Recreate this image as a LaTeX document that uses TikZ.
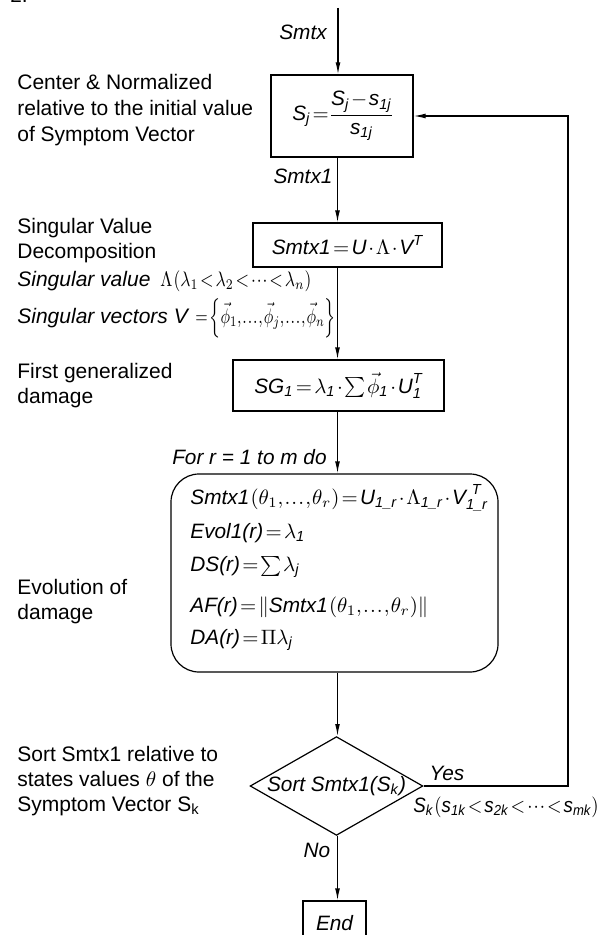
\RequirePackage{fix-cm}
\documentclass[tikz,border=0pt]{standalone}
\usepackage{amsmath}
\usepackage{graphicx}
\usepackage{fontspec}
\setmainfont{Liberation Sans}
\usetikzlibrary{shapes.geometric,arrows.meta}
\newcommand{\ti}[1]{\textit{#1}}
\newcommand{\tightmath}{\thickmuskip=2mu plus 1mu\medmuskip=1.5mu\thinmuskip=1mu\nulldelimiterspace=0pt}
\tikzset{
  every node/.style={font=\fontsize{10.4}{13}\selectfont\tightmath},
  box/.style={draw, line width=0.6pt, inner sep=0pt},
  arr/.style={draw, line width=0.6pt, -{Latex[length=6pt,width=2.4pt]}},
  lbl/.style={font=\fontsize{10.4}{13}\selectfont\itshape, inner sep=0pt},
  note/.style={align=left, inner sep=0pt, anchor=west, font=\fontsize{10.5}{12.5}\selectfont\tightmath},
  mline/.style={inner sep=0pt, anchor=west}
}
\begin{document}
\begin{tikzpicture}[x=0.5pt,y=-0.5pt]
\useasboundingbox (0,0) rectangle (608,935);
\coordinate (ax) at (337.5,0);
\coordinate (in) at (338,8);
\node[anchor=base west, inner sep=0pt] (two) at (10,3) {2.};
% boxes
\node[box, minimum width=71pt, minimum height=41pt] (b1) at (342,116)
  {$\ti{S}_{\ti{j}}=\dfrac{\ti{S}_{\ti{j}}-\ti{s}_{\ti{1j}}}{\ti{s}_{\ti{1j}}}$};
\node[box, minimum width=94.5pt, minimum height=22pt] (b2) at (347.5,245)
  {$\ti{Smtx1}=\ti{U}\cdot\Lambda\cdot\ti{V}^{\ti{T}}$};
\node[box, minimum width=105.5pt, minimum height=25.5pt] (b3) at (338.5,385.5)
  {$\ti{SG}_{\ti{1}}=\lambda_{\ti{1}}\cdot\sum\vec{\phi}_{\ti{1}}\cdot\ti{U}_{\ti{1}}^{\ti{T}}$};
\node[box, rounded corners=14pt, minimum width=163.5pt, minimum height=99pt] (rb) at (334.5,573) {};
\node[mline] (e1) at (190,498)
  {$\ti{Smtx1}\left(\theta_{1},\ldots,\theta_{r}\right)=\ti{U}_{\ti{1\_r}}\cdot\Lambda_{\ti{1\_r}}\cdot\ti{V}_{\ti{1\_r}}^{\ \ti{T}}$};
\node[mline] (e2) at (190,533) {$\ti{Evol1(r)}=\lambda_{\ti{1}}$};
\node[mline] (e3) at (190,567) {$\ti{DS(r)}=\sum\lambda_{\ti{j}}$};
\node[mline] (e4) at (190,607) {$\ti{AF(r)}=\left\|\ti{Smtx1}\left(\theta_{1},\ldots,\theta_{r}\right)\right\|$};
\node[mline] (e5) at (190,640) {$\ti{DA(r)}=\Pi\lambda_{\ti{j}}$};
\node[draw, line width=0.6pt, diamond, shape aspect=1.75, inner sep=0pt, minimum width=85.5pt, minimum height=49pt] (dia) at (336.5,786)
  {\ti{Sort Smtx1(S\textsubscript{k})}};
\node[box, minimum width=31.5pt, minimum height=22pt, font=\fontsize{10.4}{13}\selectfont\itshape] (end) at (334.5,923) {End};
% labels
\node[lbl] (smtx) at (303,32) {Smtx};
\node[lbl] (smtx1) at (303,176) {Smtx1};
\node[lbl, anchor=east] (forr) at (327,457) {For r = 1 to m do};
\node[lbl] (yes) at (447,773) {Yes};
\node[lbl] (no) at (317,850) {No};
\node[mline] (skc) at (413,807)
  {\scalebox{0.9}[1]{$\ti{S}_{\ti{k}}\left(\ti{s}_{\ti{1k}}<\ti{s}_{\ti{2k}}<\cdots<\ti{s}_{\ti{mk}}\right)$}};
% left notes
\node[note, font=\fontsize{10.5}{13}\selectfont] (t1) at (17,110) {Center \& Normalized\\relative to the initial value\\of Symptom Vector};
\node[note] (t2) at (17,240.5) {Singular Value\\Decomposition};
\node[mline, font=\fontsize{10.5}{13}\selectfont\tightmath] (t3) at (17,281) {\ti{Singular value}\hspace{5pt}\scalebox{0.83}[1]{$\Lambda\left(\lambda_1<\lambda_2<\cdots<\lambda_n\right)$}};
\node[mline, font=\fontsize{10.5}{13}\selectfont\tightmath] (t4) at (17,318) {\ti{Singular vectors V} \scalebox{0.76}[1]{$=\left\{\vec{\phi}_1,\ldots,\vec{\phi}_j,\ldots,\vec{\phi}_n\right\}$}};
\node[note] (t5) at (17,385.5) {First generalized\\damage};
\node[note] (t6) at (17,602) {Evolution of\\damage};
\node[note] (t7) at (17,781) {Sort Smtx1 relative to\\states values $\theta$ of the\\Symptom Vector S\textsubscript{k}};
% connectors
\draw[arr] (in) -- (in |- b1.north);
\draw[arr] (b1.south -| ax) -- (b2.north -| ax);
\draw[arr] (b2.south -| ax) -- (b3.north -| ax);
\draw[arr] (b3.south -| ax) -- (rb.north -| ax);
\draw[arr] (rb.south -| ax) -- (dia.north -| ax);
\draw[arr] (dia.south -| ax) -- (end.north -| ax);
\coordinate (fb) at (568,786);
\draw[arr] (dia.east) -- (fb) |- (b1.east);
\end{tikzpicture}
\end{document}
